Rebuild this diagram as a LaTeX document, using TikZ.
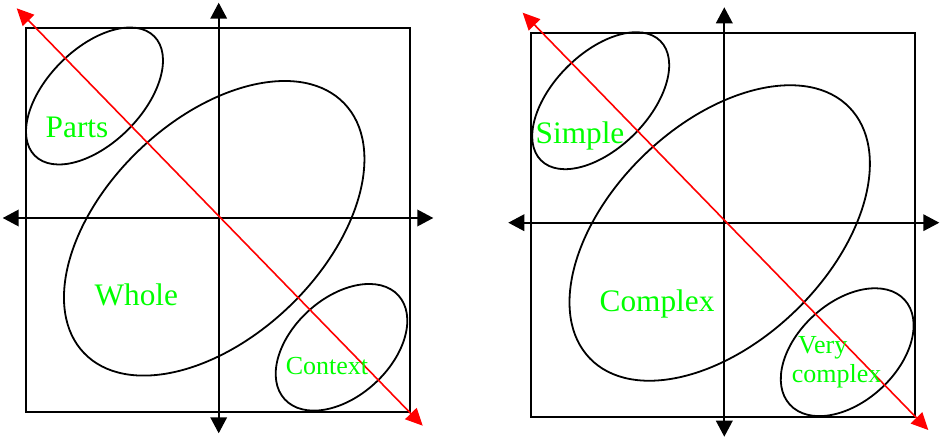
\documentclass[tikz,border=0pt]{standalone}
\usepackage{fontspec}
\setmainfont{Liberation Serif}
\usetikzlibrary{arrows.meta}
\definecolor{lblgreen}{RGB}{0,255,0}
\definecolor{axred}{RGB}{255,0,0}
\begin{document}
\begin{tikzpicture}[x=1pt,y=-1pt,
  axisline/.style={line width=1.9pt, {Triangle[length=16pt,width=16.5pt]}-{Triangle[length=16pt,width=16.5pt]}},
  diagline/.style={line width=1.6pt, axred, {Triangle[length=17pt,width=16pt]}-{Triangle[length=17pt,width=16pt]}},
  framebox/.style={line width=1.8pt},
  blob/.style={line width=1.8pt},
  lblbig/.style={text=lblgreen, font=\fontsize{31.3}{36}\selectfont, inner sep=0pt, anchor=base},
  lblsmall/.style={text=lblgreen, font=\fontsize{26}{30}\selectfont, inner sep=0pt, anchor=base}]
\useasboundingbox (0,0) rectangle (940,438);

% ---------- left panel ----------
\draw[framebox] (26,28) rectangle (410,411.7);
\draw[blob, rotate around={45:(94.5,96)}] (94.5,96) ellipse [x radius=84.4pt, y radius=47.5pt];
\draw[blob, rotate around={43.8:(214.2,228.3)}] (214.2,228.3) ellipse [x radius=180.3pt, y radius=108.4pt];
\draw[blob, rotate around={42.4:(341.5,347.3)}] (341.5,347.3) ellipse [x radius=77pt, y radius=49.1pt];

\coordinate (LvT) at (218.7,2.7);
\coordinate (LvB) at (218.7,433.3);
\coordinate (LhL) at (2.7,218);
\coordinate (LhR) at (433.3,218);
\coordinate (LdA) at (16.7,8.3);
\coordinate (LdB) at (422.7,425.7);
\draw[axisline] (LvT) -- (LvB);
\draw[axisline] (LhL) -- (LhR);
\draw[diagline] (LdA) -- (LdB);

\node[lblbig] (parts) at (77,137.3) {Parts};
\node[lblbig] (whole) at (136.3,306) {Whole};
\node[lblsmall] (context) at (327,374) {Context};

% ---------- right panel ----------
\draw[framebox] (531,32.7) rectangle (915.3,416.7);
\draw[blob, rotate around={45:(600.7,100.7)}] (600.7,100.7) ellipse [x radius=84.4pt, y radius=47.5pt];
\draw[blob, rotate around={44:(719.7,233)}] (719.7,233) ellipse [x radius=180.5pt, y radius=108.6pt];
\draw[blob, rotate around={42.4:(847.2,352.2)}] (847.2,352.2) ellipse [x radius=77.7pt, y radius=49.6pt];

\coordinate (RvT) at (724.3,7.3);
\coordinate (RvB) at (724.3,436.7);
\coordinate (RhL) at (508.3,222.7);
\coordinate (RhR) at (939.3,222.7);
\coordinate (RdA) at (522.7,12.7);
\coordinate (RdB) at (928.3,430);
\draw[axisline] (RvT) -- (RvB);
\draw[axisline] (RhL) -- (RhR);
\draw[diagline] (RdA) -- (RdB);

\node[lblbig] (simple) at (580,143.3) {Simple};
\node[lblbig] (complex) at (657,311.7) {Complex};
\node[lblsmall, anchor=base west] (very) at (798,353.3) {Very};
\node[lblsmall, anchor=base west] (vcomplex) at (791.7,382.7) {complex};
\end{tikzpicture}
\end{document}
